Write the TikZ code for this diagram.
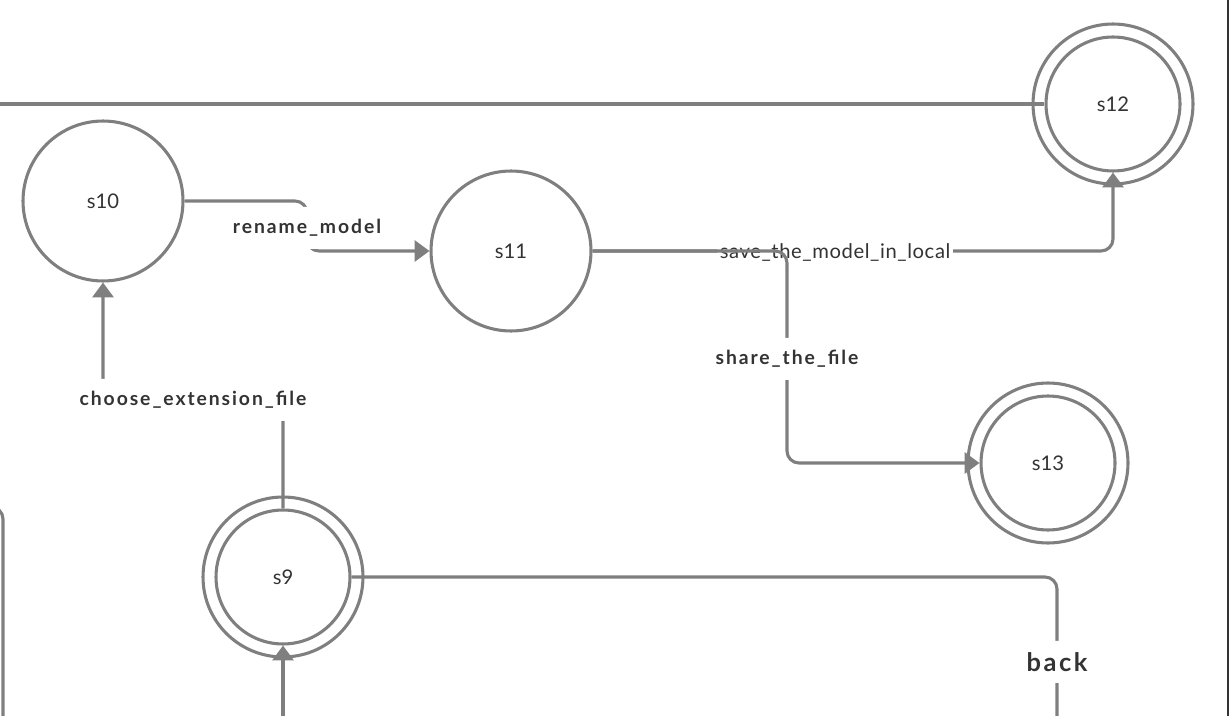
\documentclass[tikz,border=0pt]{standalone}
\usepackage{fontspec}
\setmainfont{Lato}
\newfontfamily\edgefont[LetterSpace=10]{Lato}
\newfontfamily\plainfont[LetterSpace=3]{Lato}
\usetikzlibrary{arrows.meta,calc}
\definecolor{stroke}{HTML}{7F7F7F}
\definecolor{ink}{HTML}{333333}
\definecolor{frame}{HTML}{333333}
\tikzset{
  line/.style={line width=1.75pt, draw=stroke, rounded corners=0.24cm},
  edge/.style={line, -{Triangle[width=12pt,length=8.5pt]}},
  state/.style={circle, draw=stroke, line width=1.75pt, minimum size=3.2cm, inner sep=0pt, text=ink, font=\fontsize{11.5}{13}\selectfont},
  final/.style={state, minimum size=2.68cm},
  ring/.style={line width=1.75pt, draw=stroke},
  lab/.style={fill=white, text=ink, inner xsep=0.05cm, inner ysep=0pt, minimum height=0.84cm, yshift=-1pt, font=\edgefont\bfseries\fontsize{11}{13}\selectfont},
  plainlab/.style={lab, yshift=0pt, font=\plainfont\fontsize{11.5}{13}\selectfont},
  biglab/.style={lab, font=\edgefont\bfseries\fontsize{14.5}{17}\selectfont}
}

\begin{document}
\begin{tikzpicture}[x=0.02cm, y=-0.02cm]
  \useasboundingbox (0,0) rectangle (1230,716);
  \clip (0,0) rectangle (1230,716);

  % states
  \node[state] (s10) at (103,201) {s10};
  \node[state] (s11) at (511,251) {s11};
  \node[final] (s12) at (1113,104) {s12};
  \node[final] (s13) at (1048,463) {s13};
  \node[final] (s9) at (283,577) {s9};
  \draw[ring] (s12.center) circle [radius=1.6cm];
  \draw[ring] (s13.center) circle [radius=1.6cm];
  \draw[ring] (s9.center) circle [radius=1.6cm];

  % loose ends
  \coordinate (topin) at (-20,104);
  \coordinate (leftin) at (-20,507);
  \coordinate (leftout) at (3,760);
  \coordinate (in9) at (283,760);
  \coordinate (backout) at (1057,760);
  \coordinate (rn) at (307,226);
  \coordinate (sh) at (787,357);
  \coordinate (ch) at (193,398);
  \coordinate (bk) at (1057,660);

  % transitions
  \draw[line] (topin) -- (s12.west);
  \draw[line] (leftin) -| (leftout);
  \draw[edge] (s10.east) -| (rn) node[lab] {rename\_model} |- (s11.west);
  \draw[edge] (s11.east) -| node[plainlab, pos=0.233] {save\_the\_model\_in\_local} (s12.south);
  \draw[edge] (s11.east) -| (sh) node[lab] {share\_the\_file} |- (s13.west);
  \draw[edge] (s9.north) |- (ch) node[lab] {choose\_extension\_file} -| (s10.south);
  \draw[line] (s9.east) -| (bk) node[biglab] {back} -- (backout);
  \draw[edge] (in9) -- (s9.south);

  \draw[frame, line width=1.3pt] (1228,0) -- (1228,716);
\end{tikzpicture}
\end{document}
